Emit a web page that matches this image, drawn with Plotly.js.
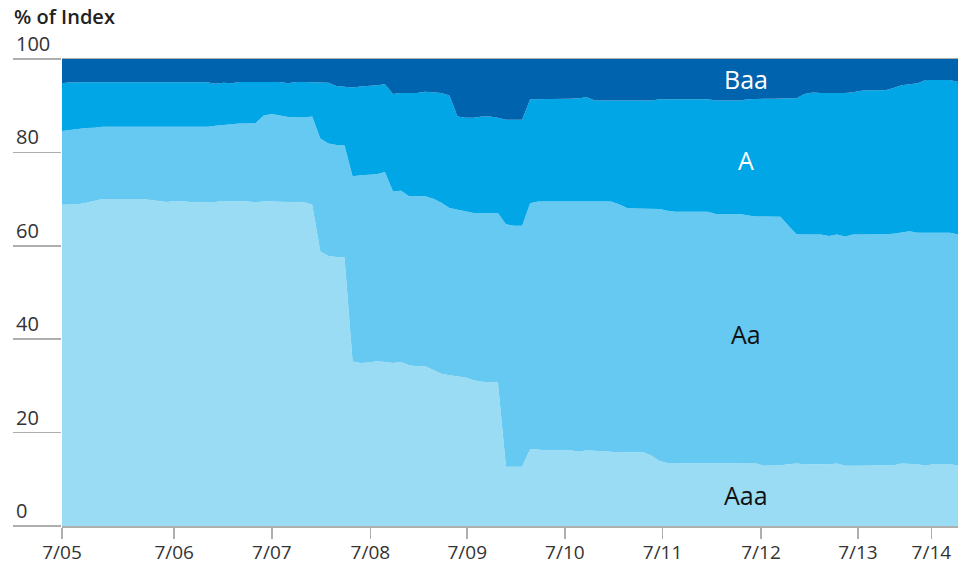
<!DOCTYPE html>
<html>
<head>
<meta charset="utf-8">
<script src="https://cdn.plot.ly/plotly-3.0.1.min.js"></script>
<style>
html,body{margin:0;padding:0;background:#fff;}
#chart{width:958px;height:565px;}
</style>
</head>
<body>
<div id="chart"></div>
<script>
// Observation index (roughly monthly, July 2005 to late 2014)
const obs = Array.from({length: 112}, (_, i) => i);

// Tick labels and the observation positions where they sit
const tickLabels = ["7/05","7/06","7/07","7/08","7/09","7/10","7/11","7/12","7/13","7/14"];
const tickPos    = [0, 13.9, 26.0, 38.2, 50.2, 62.3, 74.4, 86.6, 98.6, 107.7];

// Share of index by rating (%)
const aaa = [68.8,68.8,68.9,69.2,69.6,70.0,70.0,70.0,70.0,70.0,
             70.0,69.8,69.6,69.4,69.6,69.6,69.3,69.3,69.3,69.4,
             69.6,69.6,69.5,69.5,69.3,69.5,69.5,69.4,69.3,69.3,
             69.3,68.8,58.8,57.8,57.6,57.5,35.2,34.9,35.0,35.3,
             35.1,34.9,35.1,34.4,34.2,34.2,33.4,32.6,32.3,32.0,
             31.8,31.2,30.9,30.8,30.8,12.7,12.7,12.7,16.5,16.3,
             16.2,16.2,16.2,16.2,15.9,16.2,16.1,16.0,15.8,15.8,
             15.8,15.8,15.8,15.1,13.9,13.5,13.5,13.5,13.5,13.5,
             13.4,13.4,13.4,13.4,13.4,13.4,13.4,12.9,12.9,13.0,
             13.2,13.4,13.2,13.2,13.2,13.2,13.4,12.9,12.9,12.9,
             12.9,12.9,12.9,13.0,13.4,13.3,13.2,12.9,13.3,13.3,
             13.3,12.9];

const aa  = [15.8,16.0,16.2,16.0,15.7,15.5,15.5,15.5,15.5,15.5,
             15.5,15.7,15.9,16.1,15.9,15.9,16.2,16.2,16.2,16.3,
             16.3,16.4,16.7,16.7,17.0,18.4,18.7,18.5,18.3,18.3,
             18.2,18.9,24.2,24.1,24.0,24.0,39.7,40.2,40.2,40.0,
             40.7,36.8,36.7,36.2,36.4,36.4,36.7,36.6,35.8,35.7,
             35.5,35.8,36.1,36.2,36.2,51.9,51.6,51.6,52.6,53.2,
             53.3,53.3,53.3,53.3,53.5,53.3,53.4,53.5,53.7,53.1,
             52.3,52.2,52.2,52.8,54.0,54.0,53.8,53.8,53.8,53.8,
             53.9,53.4,53.4,53.4,53.4,53.1,52.9,53.4,53.4,53.2,
             51.1,49.1,49.2,49.2,49.2,48.9,49.0,49.1,49.5,49.5,
             49.5,49.5,49.6,49.6,49.5,49.8,49.6,49.9,49.5,49.5,
             49.5,49.5];

const a   = [10.2,10.2,9.9,9.8,9.7,9.5,9.5,9.5,9.5,9.5,
             9.5,9.5,9.5,9.5,9.5,9.5,9.5,9.5,9.5,9.0,
             9.0,8.8,8.9,8.9,8.8,7.2,6.9,7.2,7.2,7.5,
             7.6,7.3,12.0,13.0,12.6,12.5,19.0,19.0,19.0,19.1,
             18.8,20.8,20.9,22.1,22.1,22.4,22.8,23.5,24.1,20.0,
             20.1,20.4,20.7,20.7,20.4,22.4,22.7,22.7,22.3,21.9,
             22.0,22.0,22.0,22.0,22.2,22.3,21.6,21.6,21.6,22.2,
             23.0,23.1,23.1,23.2,23.5,23.9,24.1,24.1,24.1,24.1,
             24.1,24.3,24.3,24.3,24.3,24.9,25.2,25.2,25.2,25.3,
             27.2,29.1,30.1,30.4,30.3,30.6,30.3,30.7,30.5,30.8,
             30.9,30.9,30.8,31.2,31.5,31.5,32.0,32.7,32.7,32.7,
             32.7,32.7];

const baa = [5.2,5.0,5.0,5.0,5.0,5.0,5.0,5.0,5.0,5.0,
             5.0,5.0,5.0,5.0,5.0,5.0,5.0,5.0,5.0,5.3,
             5.1,5.2,4.9,4.9,4.9,4.9,4.9,4.9,5.2,4.9,
             4.9,5.0,5.0,5.1,5.8,6.0,6.1,5.9,5.8,5.6,
             5.4,7.5,7.3,7.3,7.3,7.0,7.1,7.3,7.8,12.3,
             12.6,12.6,12.3,12.3,12.6,13.0,13.0,13.0,8.6,8.6,
             8.5,8.5,8.5,8.5,8.4,8.2,8.9,8.9,8.9,8.9,
             8.9,8.9,8.9,8.9,8.6,8.6,8.6,8.6,8.6,8.6,
             8.6,8.9,8.9,8.9,8.9,8.6,8.5,8.5,8.5,8.5,
             8.5,8.4,7.5,7.2,7.3,7.3,7.3,7.3,7.1,6.8,
             6.7,6.7,6.7,6.2,5.6,5.4,5.2,4.5,4.5,4.5,
             4.5,4.9];

const seriesNames = ["Aaa","Aa","A","Baa"];
const seriesData  = [aaa, aa, a, baa];
const seriesColors = ["#9BDCF5","#66C9F1","#00A6E6","#0063AE"];

const traces = seriesData.map((vals, k) => ({
  x: obs,
  y: vals,
  name: seriesNames[k],
  type: "scatter",
  mode: "lines",
  stackgroup: "rating",
  line: {width: 0, color: seriesColors[k]},
  fillcolor: seriesColors[k],
  hoverinfo: "skip",
  showlegend: false
}));

const yTicks = [0, 20, 40, 60, 80, 100];
const axisGray = "#AEAEAE";
const fontFam = "'Open Sans', 'Noto Sans', sans-serif";

const annotations = [];
// y tick labels: left-aligned above each tick line
yTicks.forEach(v => {
  annotations.push({
    xref: "paper", yref: "y", x: -0.0536, y: v,
    xanchor: "left", yanchor: "bottom", yshift: 0,
    text: String(v), showarrow: false,
    font: {family: fontFam, size: 20, color: "#333333"}
  });
});
// series labels
const labelSpecs = [
  {t: "Baa", y: 95.7, c: "#FFFFFF"},
  {t: "A",   y: 78.4, c: "#FFFFFF"},
  {t: "Aa",  y: 41.1, c: "#111111"},
  {t: "Aaa", y: 6.6,  c: "#111111"}
];
labelSpecs.forEach(s => {
  annotations.push({
    xref: "x", yref: "y", x: 84.7, y: s.y,
    xanchor: "center", yanchor: "middle",
    text: s.t, showarrow: false,
    font: {family: fontFam, size: 25, weight: 500, color: s.c}
  });
});

const layout = {
  width: 958, height: 565,
  margin: {l: 62, r: 0, t: 59, b: 39, pad: 0},
  paper_bgcolor: "#FFFFFF",
  plot_bgcolor: "#FFFFFF",
  title: {
    text: "% of Index",
    xref: "container", yref: "container",
    x: 14/958, xanchor: "left",
    y: 1 - 17/565, yanchor: "middle",
    font: {family: fontFam, size: 20, weight: 600, color: "#222222"}
  },
  xaxis: {
    range: [0, 111],
    tickmode: "array",
    tickvals: tickPos,
    ticktext: tickLabels,
    ticks: "outside", ticklen: 11, tickwidth: 1.5, tickcolor: axisGray,
    ticklabelstandoff: -2,
    showgrid: false, zeroline: false,
    showline: true, mirror: true, linecolor: axisGray, linewidth: 1.5,
    tickfont: {family: fontFam, size: 19, color: "#333333"},
    fixedrange: true
  },
  yaxis: {
    range: [0, 100],
    tickmode: "array",
    tickvals: yTicks,
    ticks: "outside", ticklen: 48, tickwidth: 1.5, tickcolor: axisGray,
    showticklabels: false,
    showgrid: false, zeroline: false, showline: false,
    fixedrange: true
  },
  annotations: annotations,
  showlegend: false
};

Plotly.newPlot("chart", traces, layout, {displayModeBar: false, staticPlot: true});
</script>
</body>
</html>
